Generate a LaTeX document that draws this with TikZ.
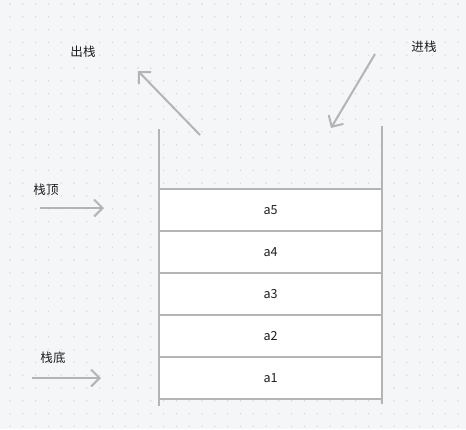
\documentclass[tikz,border=0pt]{standalone}
\usepackage{fontspec}
\setmainfont{Noto Sans CJK SC}
\usetikzlibrary{positioning,arrows.meta}
\definecolor{StackGray}{RGB}{180,180,180}
\definecolor{PaperBg}{RGB}{245,246,248}
\definecolor{GridDot}{RGB}{212,215,220}
\definecolor{InkText}{RGB}{30,30,30}

\begin{document}
\begin{tikzpicture}[x=0.75pt,y=-0.75pt,node distance=0pt,
	slot/.style={draw=StackGray,fill=white,line width=1.2pt,outer sep=0pt,
		minimum width=167.25pt,minimum height=31.5pt,
		font=\fontsize{9.4}{11}\selectfont,text=InkText},
	tag/.style={font=\fontsize{9.4}{11}\selectfont,text=InkText},
	wall/.style={StackGray,line width=1.6pt},
	move/.style={-{Straight Barb[length=6.4pt,width=12.8pt]},StackGray,line width=1.5pt}]
				
				% paper with dot grid
				\useasboundingbox[fill=PaperBg] (0,0) rectangle (466,429);
				\foreach \i in {0,...,36}
				\foreach \j in {0,...,33}
				\fill[GridDot] (10+12.8*\i,4+12.8*\j) circle (0.6pt);
				
				% stack slots
				\node[slot] (a1) at (270.5,378) {a1};
				\node[slot,above=of a1] (a2) {a2};
				\node[slot,above=of a2] (a3) {a3};
				\node[slot,above=of a3] (a4) {a4};
				\node[slot,above=of a4] (a5) {a5};
				
				% walls
				\draw[wall] (159,129) -- (159,406);
				\draw[wall] (382,126) -- (382,404);
				
				% labels
				\node[tag] (popTag) at (83,52) {出栈};
				\node[tag] (pushTag) at (424,47) {进栈};
				\node[tag] (topTag) at (46,190) {栈顶};
				\node[tag] (bottomTag) at (53,358) {栈底};
				
				\coordinate (popFrom) at (200,135);
				\coordinate (popTo) at (138,71);
				\coordinate (pushFrom) at (375,54);
				\coordinate (pushTo) at (331,128);
				\coordinate (topFrom) at (40,208);
				\coordinate (topTo) at (104,208);
				\coordinate (bottomFrom) at (32,378);
				\coordinate (bottomTo) at (101,378);
				
				\draw[move] (popFrom) -- (popTo);
				\draw[move] (pushFrom) -- (pushTo);
				\draw[move] (topFrom) -- (topTo);
				\draw[move] (bottomFrom) -- (bottomTo);
				
\end{tikzpicture}
\end{document}
